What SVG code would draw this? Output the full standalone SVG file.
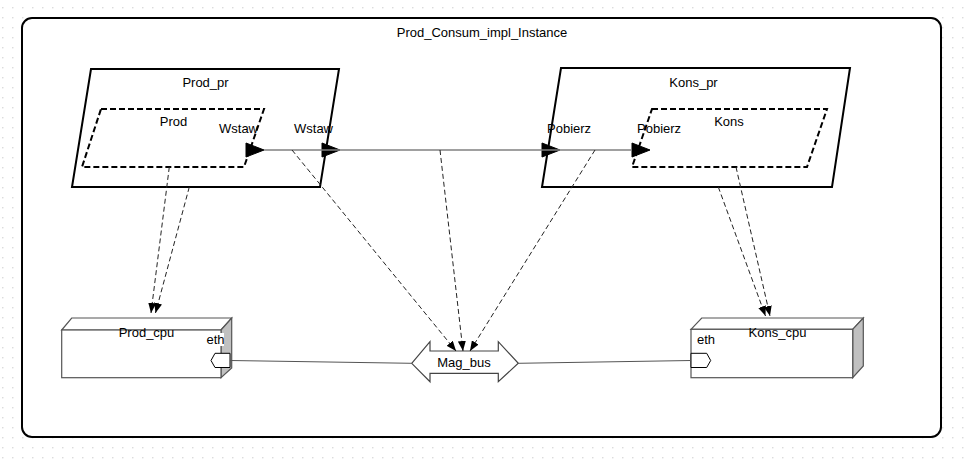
<svg xmlns="http://www.w3.org/2000/svg" width="966" height="467" viewBox="0 0 966 467">
<style>
text{font-family:"Liberation Sans",Arial,sans-serif;font-size:13px;fill:#000}
.mid{text-anchor:middle}
.part{fill:#fff;stroke:#000;stroke-width:2}
.inner{fill:#fff;stroke:#000;stroke-width:2;stroke-dasharray:6 3}
.port{fill:#000;stroke:#000;stroke-width:1}
.face{fill:#fff;stroke:#555;stroke-width:1.2}
.side{fill:#c0c0c0;stroke:#555;stroke-width:1.2}
.dep{fill:none;stroke:#222;stroke-width:1;stroke-dasharray:5 3}
.wire{fill:none;stroke:#808080;stroke-width:1.5}
.link{fill:none;stroke:#555;stroke-width:1}
</style>
<defs>
<pattern id="dots" x="2" y="7" width="10" height="10" patternUnits="userSpaceOnUse">
<circle cx="0.8" cy="0.8" r="0.8" fill="#d4d4d4"/>
</pattern>
<marker id="arr" viewBox="0 0 10 8" refX="10" refY="4" markerWidth="10" markerHeight="8" markerUnits="userSpaceOnUse" orient="auto">
<path d="M0,0 L10,4 L0,8 z" fill="#000"/>
</marker>
</defs>
<rect width="966" height="467" fill="#fff"/>
<rect width="966" height="467" fill="url(#dots)"/>

<g id="instance">
<rect x="22" y="18" width="919" height="419" rx="10" fill="#fff" stroke="#000" stroke-width="2"/>
<text class="mid" x="482" y="36.5">Prod_Consum_impl_Instance</text>
</g>

<g id="Prod_pr">
<polygon class="part" points="91,69 339,69 320,187 72,187"/>
<text class="mid" x="205.5" y="86.5">Prod_pr</text>
</g>
<g id="Prod">
<polygon class="inner" points="101,109 264,109 244,167 82,167"/>
<text class="mid" x="173.5" y="125.5">Prod</text>
<text x="219" y="132.5">Wstaw</text>
<polygon class="port" points="246,143 264,150 246,157"/>
</g>
<g id="Prod_pr_Wstaw">
<text x="294" y="132.5">Wstaw</text>
<polygon class="port" points="322,143 340,150 322,157"/>
</g>

<g id="Kons_pr">
<polygon class="part" points="561,68 850,68 832,187 542,187"/>
<text class="mid" x="693.5" y="86.5">Kons_pr</text>
</g>
<g id="Kons_pr_Pobierz">
<text x="547" y="133">Pobierz</text>
<polygon class="port" points="542,143 560,150 542,157"/>
</g>
<g id="Kons">
<polygon class="inner" points="652,109 827,109 807,167 632,167"/>
<text class="mid" x="729" y="125.5">Kons</text>
<text x="637" y="133">Pobierz</text>
<polygon class="port" points="632,143 650,150 632,157"/>
</g>

<g id="Prod_cpu">
<polygon class="face" points="61.7,330 71.7,318 231.7,318 221,330"/>
<polygon class="side" points="221,330 231.7,318 231.7,368 221,377.7"/>
<rect class="face" x="61.7" y="330" width="159.3" height="47.7"/>
<text class="mid" x="146.5" y="336.5">Prod_cpu</text>
<rect x="206" y="333" width="18" height="13" fill="#fff"/>
<text x="206.5" y="343.5">eth</text>
<polygon fill="#fff" stroke="#000" stroke-width="1" points="211,360.5 215,353.3 230,353.3 230,367.5 215,367.5"/>
</g>

<g id="Kons_cpu">
<polygon class="face" points="691,329.3 701.7,318 863.3,318 852.7,329.3"/>
<polygon class="side" points="852.7,329.3 863.3,318 863.3,366 852.7,377.7"/>
<rect class="face" x="691" y="329.3" width="161.7" height="48.4"/>
<text class="mid" x="777.5" y="336.5">Kons_cpu</text>
<text x="697" y="343.5">eth</text>
<polygon fill="#fff" stroke="#000" stroke-width="1" points="691,353.3 706.7,353.3 710.7,360.5 706.7,367.5 691,367.5"/>
</g>

<g id="Mag_bus">
<polygon fill="#fff" stroke="#444" stroke-width="1.2" points="411.7,363.3 430,341.7 430,351 498.3,351 498.3,341.7 518.3,363.3 498.3,381.7 498.3,373.3 430,373.3 430,381.7"/>
<text class="mid" x="464" y="366.5">Mag_bus</text>
</g>

<g id="connectors">
<line class="wire" x1="264" y1="150" x2="632" y2="150"/>
<line class="link" x1="230" y1="360.5" x2="411.7" y2="363.3"/>
<line class="link" x1="518.3" y1="363.3" x2="691" y2="360.5"/>
<line class="dep" x1="169.3" y1="167" x2="151" y2="313" marker-end="url(#arr)"/>
<line class="dep" x1="189.3" y1="187" x2="155.5" y2="313" marker-end="url(#arr)"/>
<line class="dep" x1="736" y1="167" x2="770" y2="316" marker-end="url(#arr)"/>
<line class="dep" x1="718.3" y1="187" x2="765.5" y2="316" marker-end="url(#arr)"/>
<line class="dep" x1="292" y1="150" x2="456" y2="351" marker-end="url(#arr)"/>
<line class="dep" x1="440" y1="150" x2="463" y2="351" marker-end="url(#arr)"/>
<line class="dep" x1="595" y1="150" x2="470" y2="351" marker-end="url(#arr)"/>
</g>
</svg>
